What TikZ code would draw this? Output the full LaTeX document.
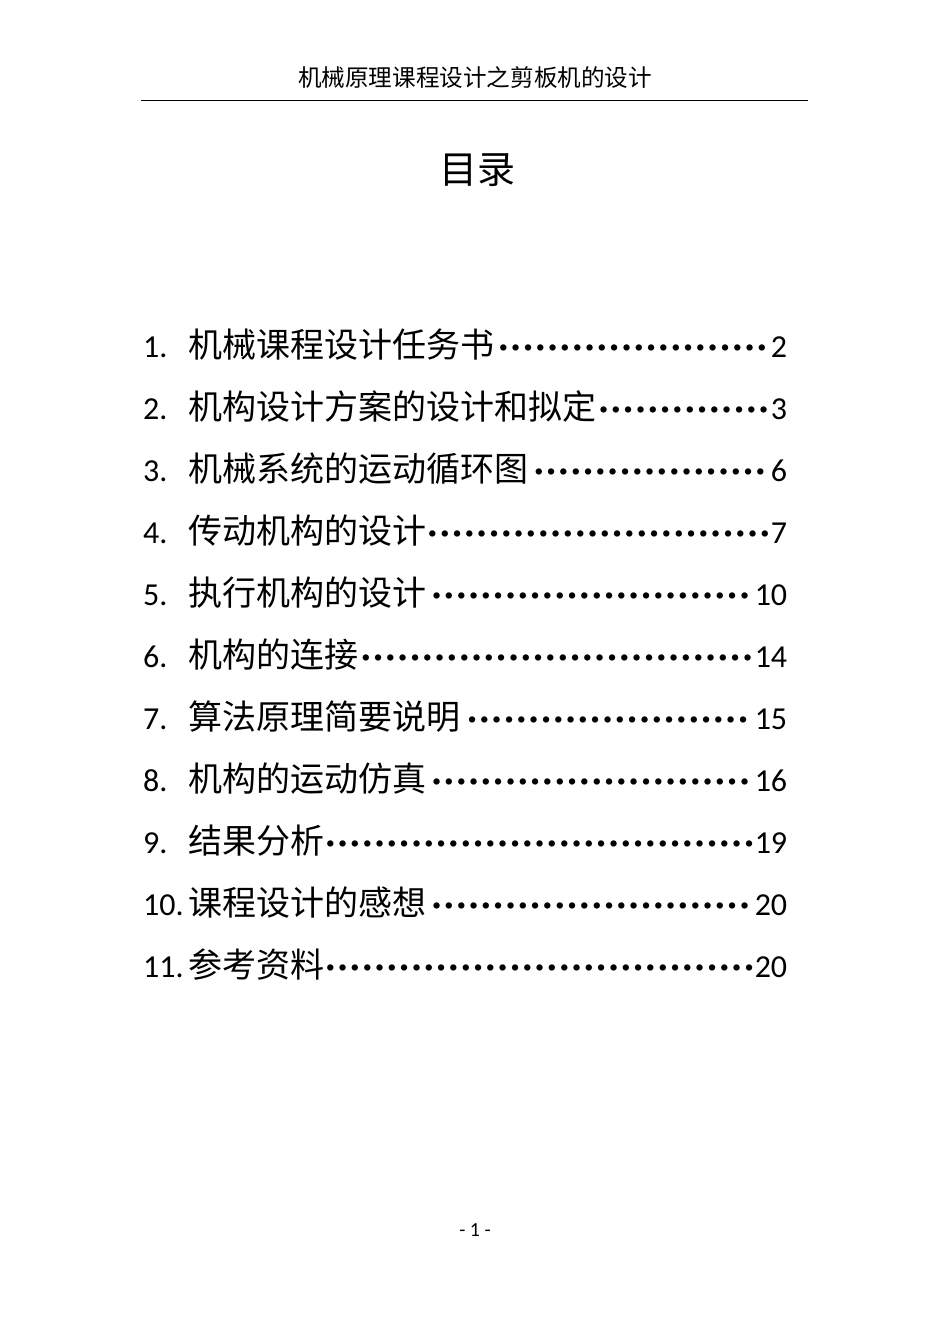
\documentclass[tikz,border=0pt]{standalone}
\usepackage{fontspec}
\setmainfont{Carlito}
\newfontfamily\cjk{Noto Sans CJK SC}
\tikzset{entry/.style={anchor=west,inner sep=0pt,text width=644pt,font=\fontsize{32}{34}\selectfont}}
\newcommand{\tocline}[3]{\makebox[45pt][l]{#1}{\cjk\fontsize{34}{36}\selectfont #2}\cleaders\hbox to 12.3pt{\hss\fontsize{34}{34}\selectfont\bfseries ·\hss}\hfill #3}
\begin{document}
\begin{tikzpicture}[x=1pt,y=1pt]
\useasboundingbox (0,0) rectangle (950,-1344);
\node (hdr) at (475,-78) {\cjk\fontsize{23.6}{24}\selectfont 机械原理课程设计之剪板机的设计};
\coordinate (r1) at (141,-100); \coordinate (r2) at (808,-100);
\draw[line width=1pt] (r1) -- (r2);
\node (title) at (477,-170) {\cjk\fontsize{38}{40}\selectfont 目录};
\node[entry] (e1) at (143,-345) {\tocline{1.}{机械课程设计任务书}{2}};
\node[entry] (e2) at (143,-407) {\tocline{2.}{机构设计方案的设计和拟定}{3}};
\node[entry] (e3) at (143,-469) {\tocline{3.}{机械系统的运动循环图}{6}};
\node[entry] (e4) at (143,-531) {\tocline{4.}{传动机构的设计}{7}};
\node[entry] (e5) at (143,-593) {\tocline{5.}{执行机构的设计}{10}};
\node[entry] (e6) at (143,-655) {\tocline{6.}{机构的连接}{14}};
\node[entry] (e7) at (143,-717) {\tocline{7.}{算法原理简要说明}{15}};
\node[entry] (e8) at (143,-779) {\tocline{8.}{机构的运动仿真}{16}};
\node[entry] (e9) at (143,-841) {\tocline{9.}{结果分析}{19}};
\node[entry] (e10) at (143,-903) {\tocline{10.}{课程设计的感想}{20}};
\node[entry] (e11) at (143,-965) {\tocline{11.}{参考资料}{20}};
\node (foot) at (475,-1230) {\fontsize{20}{22}\selectfont - 1 -};
\end{tikzpicture}
\end{document}
